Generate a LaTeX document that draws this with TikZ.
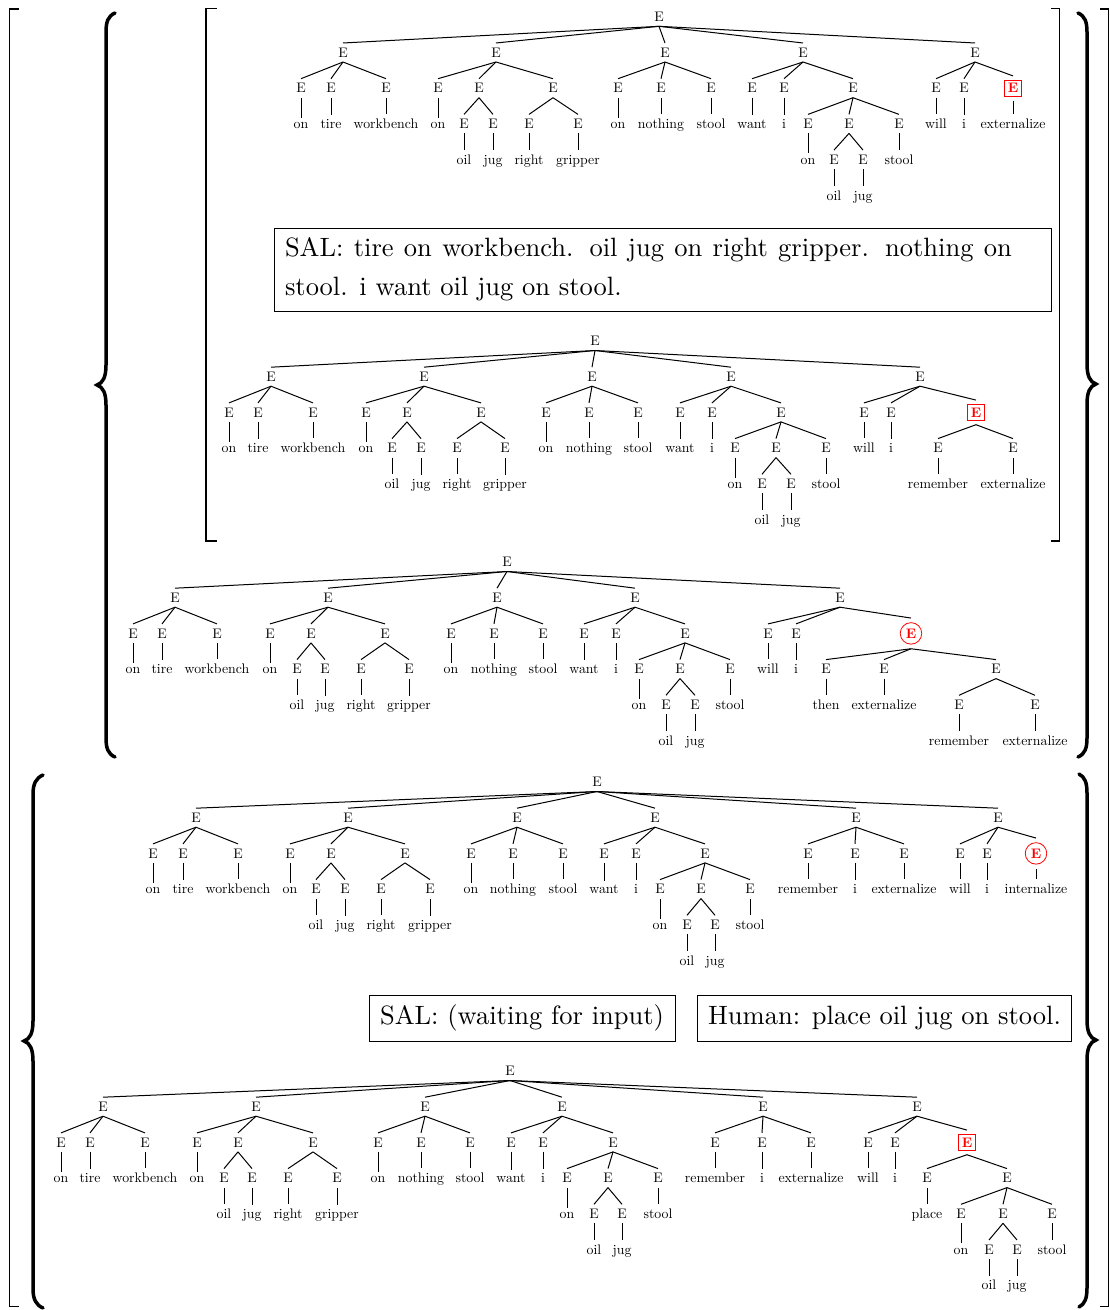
\documentclass[tikz,border=0pt]{standalone}
\usepackage{graphicx}
\newcommand\tsc{1.384}
\newcommand\tnd[4]{\node[tn] (#1) at (#2,#3) {\scalebox{\tsc}{#4}};}
\newcommand\kid[5]{\node[tn] (#2) at (#3,#4) {\scalebox{\tsc}{#5}}; \draw[te] (#1.south) -- (#2.north);}
\newcommand\kidS[6]{\node[#1] (#3) at (#4,#5) {\scalebox{\tsc}{#6}}; \draw[te] (#2.south) -- (#3.north);}
\tikzset{
 tn/.style={anchor=base, inner sep=4.6pt},
 te/.style={line width=1pt},
 rbox/.style={tn, draw=red, text=red, font=\bfseries, inner sep=3pt, outer sep=4.6pt, line width=0.8pt},
 rcirc/.style={tn, circle, draw=red, text=red, font=\bfseries, inner sep=0pt, minimum size=21.5pt, outer sep=4.6pt, line width=0.8pt},
 tbox/.style={draw, line width=1pt, inner xsep=10.5pt},
 brk/.style={line width=1.8pt},
 brc/.style={line width=3.5pt, line cap=round},
}
\begin{document}
\begin{tikzpicture}[x=1pt,y=-1pt]
\useasboundingbox (0,0) rectangle (1110,1310);
% ---------- brackets and braces ----------
\draw[brk] (19,9) -- (9.5,9) -- (9.5,1306.5) -- (19,1306.5);
\draw[brk] (1100,9) -- (1108.5,9) -- (1108.5,1306.5) -- (1100,1306.5);
\draw[brk] (216.5,8.5) -- (206,8.5) -- (206,541) -- (216.5,541);
\draw[brk] (1051,8.5) -- (1059.5,8.5) -- (1059.5,541) -- (1051,541);
\draw[brc] (115,13) .. controls (108,16) and (106,22) .. (106,32) -- (106,365) .. controls (106,377) and (103,383) .. (97,385) .. controls (103,387) and (106,393) .. (106,405) -- (106,738) .. controls (106,748) and (108,754) .. (115,757);
\draw[brc] (1078,13) .. controls (1085,16) and (1087,22) .. (1087,32) -- (1087,364) .. controls (1087,376) and (1090,382) .. (1096,384) .. controls (1090,386) and (1087,392) .. (1087,404) -- (1087,738) .. controls (1087,748) and (1085,754) .. (1078,757);
\draw[brc] (43,775) .. controls (36,778) and (33,784) .. (33,794) -- (33,1021) .. controls (33,1033) and (30,1039) .. (24,1041) .. controls (30,1043) and (33,1049) .. (33,1061) -- (33,1289) .. controls (33,1299) and (36,1305) .. (43,1308);
\draw[brc] (1079,774) .. controls (1085,777) and (1087,783) .. (1087,793) -- (1087,1020) .. controls (1087,1032) and (1090,1038) .. (1096,1040) .. controls (1090,1042) and (1087,1048) .. (1087,1060) -- (1087,1288) .. controls (1087,1298) and (1085,1304) .. (1079,1307);
% ---------- text boxes ----------
\node[tbox, anchor=west, minimum height=83pt] (s1) at (274,269.5) {\scalebox{2.65}{\vbox{\baselineskip=14.7pt\hbox to 274.3pt{SAL: tire on workbench. oil jug on right gripper. nothing on}\hbox{stool. i want oil jug on stool.}}}\rule{29pt}{0pt}};
\node[tbox, minimum width=306pt, minimum height=46pt] (s2) at (522,1018) {\scalebox{2.65}{SAL: (waiting for input)}};
\node[tbox, minimum width=374pt, minimum height=46pt] (s3) at (884.5,1018) {\scalebox{2.65}{Human: place oil jug on stool.}};
% ---------- tree A ----------
\tnd{a}{659}{21.5}{E}
\kid{a}{a1}{343}{57.2}{E}
\kid{a}{a2}{496}{57.2}{E}
\kid{a}{a3}{665}{57.2}{E}
\kid{a}{a4}{803}{57.2}{E}
\kid{a}{a5}{975}{57.2}{E}
\kid{a1}{a11}{301}{92.9}{E} \kid{a11}{a11w}{301}{128.6}{on}
\kid{a1}{a12}{331}{92.9}{E} \kid{a12}{a12w}{331}{128.6}{tire}
\kid{a1}{a13}{386}{92.9}{E} \kid{a13}{a13w}{386}{128.6}{workbench}
\kid{a2}{a21}{438}{92.9}{E} \kid{a21}{a21w}{438}{128.6}{on}
\kid{a2}{a22}{479}{92.9}{E}
\kid{a22}{a221}{464}{128.6}{E} \kid{a221}{a221w}{464}{164.3}{oil}
\kid{a22}{a222}{493}{128.6}{E} \kid{a222}{a222w}{493}{164.3}{jug}
\kid{a2}{a23}{553}{92.9}{E}
\kid{a23}{a231}{529}{128.6}{E} \kid{a231}{a231w}{529}{164.3}{right}
\kid{a23}{a232}{578}{128.6}{E} \kid{a232}{a232w}{578}{164.3}{gripper}
\kid{a3}{a31}{618}{92.9}{E} \kid{a31}{a31w}{618}{128.6}{on}
\kid{a3}{a32}{661}{92.9}{E} \kid{a32}{a32w}{661}{128.6}{nothing}
\kid{a3}{a33}{711}{92.9}{E} \kid{a33}{a33w}{711}{128.6}{stool}
\kid{a4}{a41}{752}{92.9}{E} \kid{a41}{a41w}{752}{128.6}{want}
\kid{a4}{a42}{784}{92.9}{E} \kid{a42}{a42w}{784}{128.6}{i}
\kid{a4}{a43}{853}{92.9}{E}
\kid{a43}{a431}{808}{128.6}{E} \kid{a431}{a431w}{808}{164.3}{on}
\kid{a43}{a432}{849}{128.6}{E}
\kid{a432}{a4321}{834}{164.3}{E} \kid{a4321}{a4321w}{834}{200}{oil}
\kid{a432}{a4322}{863}{164.3}{E} \kid{a4322}{a4322w}{863}{200}{jug}
\kid{a43}{a433}{899}{128.6}{E} \kid{a433}{a433w}{899}{164.3}{stool}
\kid{a5}{a51}{936}{92.9}{E} \kid{a51}{a51w}{936}{128.6}{will}
\kid{a5}{a52}{964}{92.9}{E} \kid{a52}{a52w}{964}{128.6}{i}
\kidS{rbox}{a5}{a53}{1013}{92.9}{E} \kid{a53}{a53w}{1013}{128.6}{externalize}
% ---------- tree B ----------
\tnd{b}{595}{345.7}{E}
\kid{b}{b1}{271}{381.4}{E}
\kid{b}{b2}{424}{381.4}{E}
\kid{b}{b3}{592}{381.4}{E}
\kid{b}{b4}{731}{381.4}{E}
\kid{b}{b5}{920}{381.4}{E}
\kid{b1}{b11}{229}{417.1}{E} \kid{b11}{b11w}{229}{452.8}{on}
\kid{b1}{b12}{258}{417.1}{E} \kid{b12}{b12w}{258}{452.8}{tire}
\kid{b1}{b13}{313}{417.1}{E} \kid{b13}{b13w}{313}{452.8}{workbench}
\kid{b2}{b21}{366}{417.1}{E} \kid{b21}{b21w}{366}{452.8}{on}
\kid{b2}{b22}{407}{417.1}{E}
\kid{b22}{b221}{392}{452.8}{E} \kid{b221}{b221w}{392}{488.5}{oil}
\kid{b22}{b222}{421}{452.8}{E} \kid{b222}{b222w}{421}{488.5}{jug}
\kid{b2}{b23}{481}{417.1}{E}
\kid{b23}{b231}{457}{452.8}{E} \kid{b231}{b231w}{457}{488.5}{right}
\kid{b23}{b232}{505}{452.8}{E} \kid{b232}{b232w}{505}{488.5}{gripper}
\kid{b3}{b31}{546}{417.1}{E} \kid{b31}{b31w}{546}{452.8}{on}
\kid{b3}{b32}{589}{417.1}{E} \kid{b32}{b32w}{589}{452.8}{nothing}
\kid{b3}{b33}{638}{417.1}{E} \kid{b33}{b33w}{638}{452.8}{stool}
\kid{b4}{b41}{680}{417.1}{E} \kid{b41}{b41w}{680}{452.8}{want}
\kid{b4}{b42}{712}{417.1}{E} \kid{b42}{b42w}{712}{452.8}{i}
\kid{b4}{b43}{781}{417.1}{E}
\kid{b43}{b431}{735}{452.8}{E} \kid{b431}{b431w}{735}{488.5}{on}
\kid{b43}{b432}{776}{452.8}{E}
\kid{b432}{b4321}{762}{488.5}{E} \kid{b4321}{b4321w}{762}{524.2}{oil}
\kid{b432}{b4322}{791}{488.5}{E} \kid{b4322}{b4322w}{791}{524.2}{jug}
\kid{b43}{b433}{826}{452.8}{E} \kid{b433}{b433w}{826}{488.5}{stool}
\kid{b5}{b51}{864}{417.1}{E} \kid{b51}{b51w}{864}{452.8}{will}
\kid{b5}{b52}{891}{417.1}{E} \kid{b52}{b52w}{891}{452.8}{i}
\kidS{rbox}{b5}{b53}{976}{417.1}{E}
\kid{b53}{b531}{938}{452.8}{E} \kid{b531}{b531w}{938}{488.5}{remember}
\kid{b53}{b532}{1013}{452.8}{E} \kid{b532}{b532w}{1013}{488.5}{externalize}
% ---------- tree C ----------
\tnd{c}{507}{566.7}{E}
\kid{c}{c1}{175}{602.4}{E}
\kid{c}{c2}{328}{602.4}{E}
\kid{c}{c3}{497}{602.4}{E}
\kid{c}{c4}{635}{602.4}{E}
\kid{c}{c5}{840}{602.4}{E}
\kid{c1}{c11}{133}{638.1}{E} \kid{c11}{c11w}{133}{673.8}{on}
\kid{c1}{c12}{162}{638.1}{E} \kid{c12}{c12w}{162}{673.8}{tire}
\kid{c1}{c13}{217}{638.1}{E} \kid{c13}{c13w}{217}{673.8}{workbench}
\kid{c2}{c21}{270}{638.1}{E} \kid{c21}{c21w}{270}{673.8}{on}
\kid{c2}{c22}{311}{638.1}{E}
\kid{c22}{c221}{297}{673.8}{E} \kid{c221}{c221w}{297}{709.5}{oil}
\kid{c22}{c222}{325}{673.8}{E} \kid{c222}{c222w}{325}{709.5}{jug}
\kid{c2}{c23}{385}{638.1}{E}
\kid{c23}{c231}{361}{673.8}{E} \kid{c231}{c231w}{361}{709.5}{right}
\kid{c23}{c232}{409}{673.8}{E} \kid{c232}{c232w}{409}{709.5}{gripper}
\kid{c3}{c31}{451}{638.1}{E} \kid{c31}{c31w}{451}{673.8}{on}
\kid{c3}{c32}{494}{638.1}{E} \kid{c32}{c32w}{494}{673.8}{nothing}
\kid{c3}{c33}{543}{638.1}{E} \kid{c33}{c33w}{543}{673.8}{stool}
\kid{c4}{c41}{584}{638.1}{E} \kid{c41}{c41w}{584}{673.8}{want}
\kid{c4}{c42}{616}{638.1}{E} \kid{c42}{c42w}{616}{673.8}{i}
\kid{c4}{c43}{685}{638.1}{E}
\kid{c43}{c431}{639}{673.8}{E} \kid{c431}{c431w}{639}{709.5}{on}
\kid{c43}{c432}{680}{673.8}{E}
\kid{c432}{c4321}{666}{709.5}{E} \kid{c4321}{c4321w}{666}{745.2}{oil}
\kid{c432}{c4322}{695}{709.5}{E} \kid{c4322}{c4322w}{695}{745.2}{jug}
\kid{c43}{c433}{730}{673.8}{E} \kid{c433}{c433w}{730}{709.5}{stool}
\kid{c5}{c51}{768}{638.1}{E} \kid{c51}{c51w}{768}{673.8}{will}
\kid{c5}{c52}{796}{638.1}{E} \kid{c52}{c52w}{796}{673.8}{i}
\kidS{rcirc}{c5}{c53}{911}{638.1}{E}
\kid{c53}{c531}{826}{673.8}{E} \kid{c531}{c531w}{826}{709.5}{then}
\kid{c53}{c532}{884}{673.8}{E} \kid{c532}{c532w}{884}{709.5}{externalize}
\kid{c53}{c533}{996}{673.8}{E}
\kid{c533}{c5331}{959}{709.5}{E} \kid{c5331}{c5331w}{959}{745.2}{remember}
\kid{c533}{c5332}{1035}{709.5}{E} \kid{c5332}{c5332w}{1035}{745.2}{externalize}
% ---------- tree D ----------
\tnd{d}{597}{786.7}{E}
\kid{d}{d1}{196}{822.4}{E}
\kid{d}{d2}{348}{822.4}{E}
\kid{d}{d3}{517}{822.4}{E}
\kid{d}{d4}{655}{822.4}{E}
\kid{d}{d5}{856}{822.4}{E}
\kid{d}{d6}{998}{822.4}{E}
\kid{d1}{d11}{153}{858.1}{E} \kid{d11}{d11w}{153}{893.8}{on}
\kid{d1}{d12}{183}{858.1}{E} \kid{d12}{d12w}{183}{893.8}{tire}
\kid{d1}{d13}{238}{858.1}{E} \kid{d13}{d13w}{238}{893.8}{workbench}
\kid{d2}{d21}{290}{858.1}{E} \kid{d21}{d21w}{290}{893.8}{on}
\kid{d2}{d22}{331}{858.1}{E}
\kid{d22}{d221}{316}{893.8}{E} \kid{d221}{d221w}{316}{929.5}{oil}
\kid{d22}{d222}{345}{893.8}{E} \kid{d222}{d222w}{345}{929.5}{jug}
\kid{d2}{d23}{405}{858.1}{E}
\kid{d23}{d231}{381}{893.8}{E} \kid{d231}{d231w}{381}{929.5}{right}
\kid{d23}{d232}{430}{893.8}{E} \kid{d232}{d232w}{430}{929.5}{gripper}
\kid{d3}{d31}{471}{858.1}{E} \kid{d31}{d31w}{471}{893.8}{on}
\kid{d3}{d32}{513}{858.1}{E} \kid{d32}{d32w}{513}{893.8}{nothing}
\kid{d3}{d33}{563}{858.1}{E} \kid{d33}{d33w}{563}{893.8}{stool}
\kid{d4}{d41}{604}{858.1}{E} \kid{d41}{d41w}{604}{893.8}{want}
\kid{d4}{d42}{636}{858.1}{E} \kid{d42}{d42w}{636}{893.8}{i}
\kid{d4}{d43}{705}{858.1}{E}
\kid{d43}{d431}{660}{893.8}{E} \kid{d431}{d431w}{660}{929.5}{on}
\kid{d43}{d432}{701}{893.8}{E}
\kid{d432}{d4321}{687}{929.5}{E} \kid{d4321}{d4321w}{687}{965.2}{oil}
\kid{d432}{d4322}{715}{929.5}{E} \kid{d4322}{d4322w}{715}{965.2}{jug}
\kid{d43}{d433}{750}{893.8}{E} \kid{d433}{d433w}{750}{929.5}{stool}
\kid{d5}{d51}{808}{858.1}{E} \kid{d51}{d51w}{808}{893.8}{remember}
\kid{d5}{d52}{855}{858.1}{E} \kid{d52}{d52w}{855}{893.8}{i}
\kid{d5}{d53}{904}{858.1}{E} \kid{d53}{d53w}{904}{893.8}{externalize}
\kid{d6}{d61}{960}{858.1}{E} \kid{d61}{d61w}{960}{893.8}{will}
\kid{d6}{d62}{987}{858.1}{E} \kid{d62}{d62w}{987}{893.8}{i}
\kidS{rcirc}{d6}{d63}{1036}{858.1}{E} \kid{d63}{d63w}{1036}{893.8}{internalize}
% ---------- tree E ----------
\tnd{e}{510}{1075.7}{E}
\kid{e}{e1}{103}{1111.4}{E}
\kid{e}{e2}{256}{1111.4}{E}
\kid{e}{e3}{425}{1111.4}{E}
\kid{e}{e4}{562}{1111.4}{E}
\kid{e}{e5}{763}{1111.4}{E}
\kid{e}{e6}{917}{1111.4}{E}
\kid{e1}{e11}{61}{1147.1}{E} \kid{e11}{e11w}{61}{1182.8}{on}
\kid{e1}{e12}{90}{1147.1}{E} \kid{e12}{e12w}{90}{1182.8}{tire}
\kid{e1}{e13}{145}{1147.1}{E} \kid{e13}{e13w}{145}{1182.8}{workbench}
\kid{e2}{e21}{197}{1147.1}{E} \kid{e21}{e21w}{197}{1182.8}{on}
\kid{e2}{e22}{238}{1147.1}{E}
\kid{e22}{e221}{224}{1182.8}{E} \kid{e221}{e221w}{224}{1218.5}{oil}
\kid{e22}{e222}{252}{1182.8}{E} \kid{e222}{e222w}{252}{1218.5}{jug}
\kid{e2}{e23}{313}{1147.1}{E}
\kid{e23}{e231}{288}{1182.8}{E} \kid{e231}{e231w}{288}{1218.5}{right}
\kid{e23}{e232}{337}{1182.8}{E} \kid{e232}{e232w}{337}{1218.5}{gripper}
\kid{e3}{e31}{378}{1147.1}{E} \kid{e31}{e31w}{378}{1182.8}{on}
\kid{e3}{e32}{421}{1147.1}{E} \kid{e32}{e32w}{421}{1182.8}{nothing}
\kid{e3}{e33}{470}{1147.1}{E} \kid{e33}{e33w}{470}{1182.8}{stool}
\kid{e4}{e41}{511}{1147.1}{E} \kid{e41}{e41w}{511}{1182.8}{want}
\kid{e4}{e42}{543}{1147.1}{E} \kid{e42}{e42w}{543}{1182.8}{i}
\kid{e4}{e43}{613}{1147.1}{E}
\kid{e43}{e431}{567}{1182.8}{E} \kid{e431}{e431w}{567}{1218.5}{on}
\kid{e43}{e432}{608}{1182.8}{E}
\kid{e432}{e4321}{594}{1218.5}{E} \kid{e4321}{e4321w}{594}{1254.2}{oil}
\kid{e432}{e4322}{622}{1218.5}{E} \kid{e4322}{e4322w}{622}{1254.2}{jug}
\kid{e43}{e433}{658}{1182.8}{E} \kid{e433}{e433w}{658}{1218.5}{stool}
\kid{e5}{e51}{715}{1147.1}{E} \kid{e51}{e51w}{715}{1182.8}{remember}
\kid{e5}{e52}{762}{1147.1}{E} \kid{e52}{e52w}{762}{1182.8}{i}
\kid{e5}{e53}{811}{1147.1}{E} \kid{e53}{e53w}{811}{1182.8}{externalize}
\kid{e6}{e61}{868}{1147.1}{E} \kid{e61}{e61w}{868}{1182.8}{will}
\kid{e6}{e62}{895}{1147.1}{E} \kid{e62}{e62w}{895}{1182.8}{i}
\kidS{rbox}{e6}{e63}{967}{1147.1}{E}
\kid{e63}{e631}{927}{1182.8}{E} \kid{e631}{e631w}{927}{1218.5}{place}
\kid{e63}{e632}{1007}{1182.8}{E}
\kid{e632}{e6321}{961}{1218.5}{E} \kid{e6321}{e6321w}{961}{1254.2}{on}
\kid{e632}{e6322}{1003}{1218.5}{E}
\kid{e6322}{e63221}{989}{1254.2}{E} \kid{e63221}{e63221w}{989}{1289.9}{oil}
\kid{e6322}{e63222}{1017}{1254.2}{E} \kid{e63222}{e63222w}{1017}{1289.9}{jug}
\kid{e632}{e6323}{1052}{1218.5}{E} \kid{e6323}{e6323w}{1052}{1254.2}{stool}
\end{tikzpicture}
\end{document}
